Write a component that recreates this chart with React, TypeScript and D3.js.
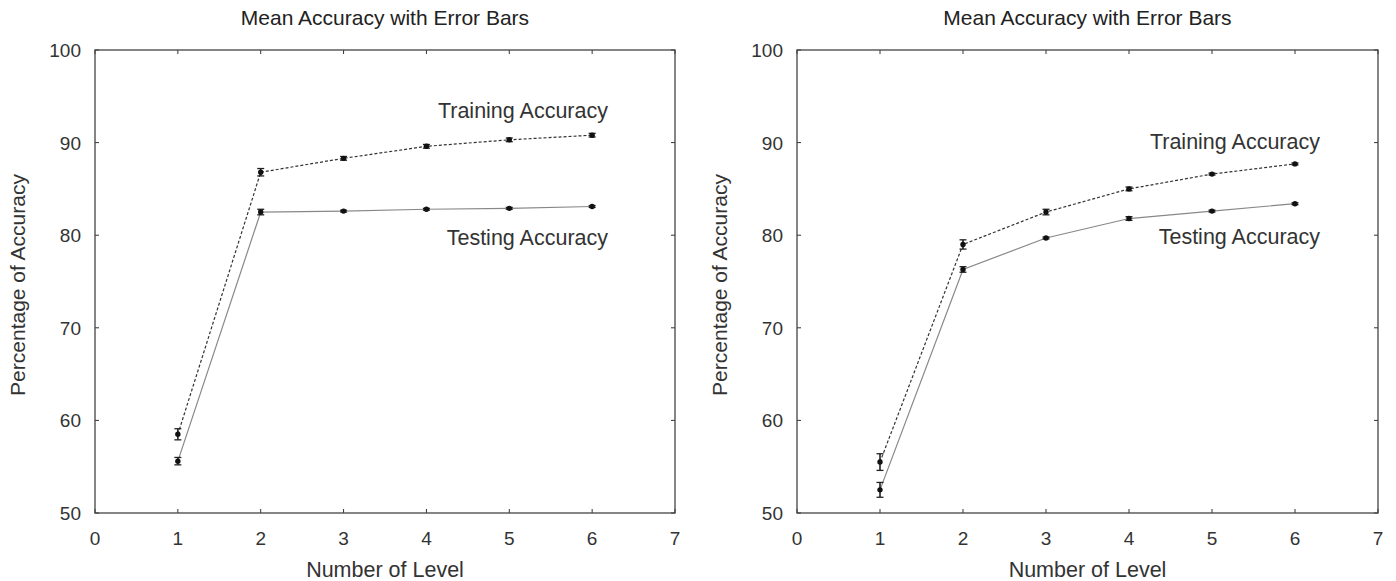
import React from "react";
import * as d3 from "d3";

const levels = [1, 2, 3, 4, 5, 6];
const leftTrain = [58.5, 86.8, 88.3, 89.6, 90.3, 90.8];
const leftTrainErr = [0.6, 0.4, 0.2, 0.2, 0.2, 0.2];
const leftTest = [55.6, 82.5, 82.6, 82.8, 82.9, 83.1];
const leftTestErr = [0.4, 0.3, 0.1, 0.1, 0.1, 0.1];
const rightTrain = [55.5, 79.0, 82.5, 85.0, 86.6, 87.7];
const rightTrainErr = [0.9, 0.5, 0.3, 0.2, 0.1, 0.1];
const rightTest = [52.5, 76.3, 79.7, 81.8, 82.6, 83.4];
const rightTestErr = [0.8, 0.3, 0.1, 0.2, 0.1, 0.1];
const xTicks = [0, 1, 2, 3, 4, 5, 6, 7];
const yTicks = [50, 60, 70, 80, 90, 100];

const FONT = "Liberation Sans, Arial, sans-serif";

type PanelProps = {
  x0: number; x1: number;
  train: number[]; trainErr: number[];
  test: number[]; testErr: number[];
  trainLabelY: number; testLabelY: number; labelRight: number;
};

function Panel(p: PanelProps) {
  const top = 50, bottom = 513;
  const x = d3.scaleLinear().domain([0, 7]).range([p.x0, p.x1]);
  const y = d3.scaleLinear().domain([50, 100]).range([bottom, top]);
  const line = d3.line<number>().x((_, i) => x(levels[i])).y((d) => y(d));
  const tl = 4;
  const cx = (p.x0 + p.x1) / 2;
  const series = [
    { v: p.train, e: p.trainErr, dash: "3,2", stroke: "#333" },
    { v: p.test, e: p.testErr, dash: undefined, stroke: "#888" },
  ];
  return (
    <g>
      <text x={cx} y={25} textAnchor="middle" fontSize={21} fill="#222" fontFamily={FONT}>
        Mean Accuracy with Error Bars
      </text>
      {xTicks.map((t) => (
        <g key={"x" + t}>
          <line x1={x(t)} x2={x(t)} y1={bottom} y2={bottom - tl} stroke="#333" />
          <line x1={x(t)} x2={x(t)} y1={top} y2={top + tl} stroke="#333" />
          <text x={x(t)} y={545} textAnchor="middle" fontSize={19} fill="#333" fontFamily={FONT}>{t}</text>
        </g>
      ))}
      {yTicks.map((t) => (
        <g key={"y" + t}>
          <line x1={p.x0} x2={p.x0 + tl} y1={y(t)} y2={y(t)} stroke="#333" />
          <line x1={p.x1} x2={p.x1 - tl} y1={y(t)} y2={y(t)} stroke="#333" />
          <text x={p.x0 - 14} y={y(t) + 7} textAnchor="end" fontSize={19} fill="#333" fontFamily={FONT}>{t}</text>
        </g>
      ))}
      <rect x={p.x0} y={top} width={p.x1 - p.x0} height={bottom - top} fill="none" stroke="#444" strokeWidth={1.3} />
      <text x={cx} y={577} textAnchor="middle" fontSize={21.5} fill="#333" fontFamily={FONT}>Number of Level</text>
      <text transform={`translate(${p.x0 - 70},${285}) rotate(-90)`} textAnchor="middle" fontSize={21} fill="#333" fontFamily={FONT}>
        Percentage of Accuracy
      </text>
      {series.map((s, si) => (
        <g key={"s" + si}>
          <path d={line(s.v) || ""} fill="none" stroke={s.stroke} strokeWidth={1.2} strokeDasharray={s.dash} />
          {s.v.map((v, i) => (
            <g key={i}>
              <line x1={x(levels[i])} x2={x(levels[i])} y1={y(v - s.e[i])} y2={y(v + s.e[i])} stroke="#222" strokeWidth={1.6} />
              <line x1={x(levels[i]) - 3.5} x2={x(levels[i]) + 3.5} y1={y(v - s.e[i])} y2={y(v - s.e[i])} stroke="#222" strokeWidth={1.3} />
              <line x1={x(levels[i]) - 3.5} x2={x(levels[i]) + 3.5} y1={y(v + s.e[i])} y2={y(v + s.e[i])} stroke="#222" strokeWidth={1.3} />
              <circle cx={x(levels[i])} cy={y(v)} r={2.7} fill="#111" />
            </g>
          ))}
        </g>
      ))}
      <text x={p.labelRight} y={p.trainLabelY + 7} textAnchor="end" fontSize={21.5} fill="#333" fontFamily={FONT}>Training Accuracy</text>
      <text x={p.labelRight} y={p.testLabelY + 7} textAnchor="end" fontSize={21.5} fill="#333" fontFamily={FONT}>Testing Accuracy</text>
    </g>
  );
}

export default function App() {
  return (
    <svg width={1396} height={581} style={{ position: "absolute", left: 0, top: 0, background: "#fff" }}>
      <rect width={1396} height={581} fill="#fff" />
      <Panel x0={95} x1={675} train={leftTrain} trainErr={leftTrainErr} test={leftTest} testErr={leftTestErr}
        trainLabelY={111} testLabelY={238} labelRight={608} />
      <Panel x0={797} x1={1378} train={rightTrain} trainErr={rightTrainErr} test={rightTest} testErr={rightTestErr}
        trainLabelY={142} testLabelY={237} labelRight={1320} />
    </svg>
  );
}
